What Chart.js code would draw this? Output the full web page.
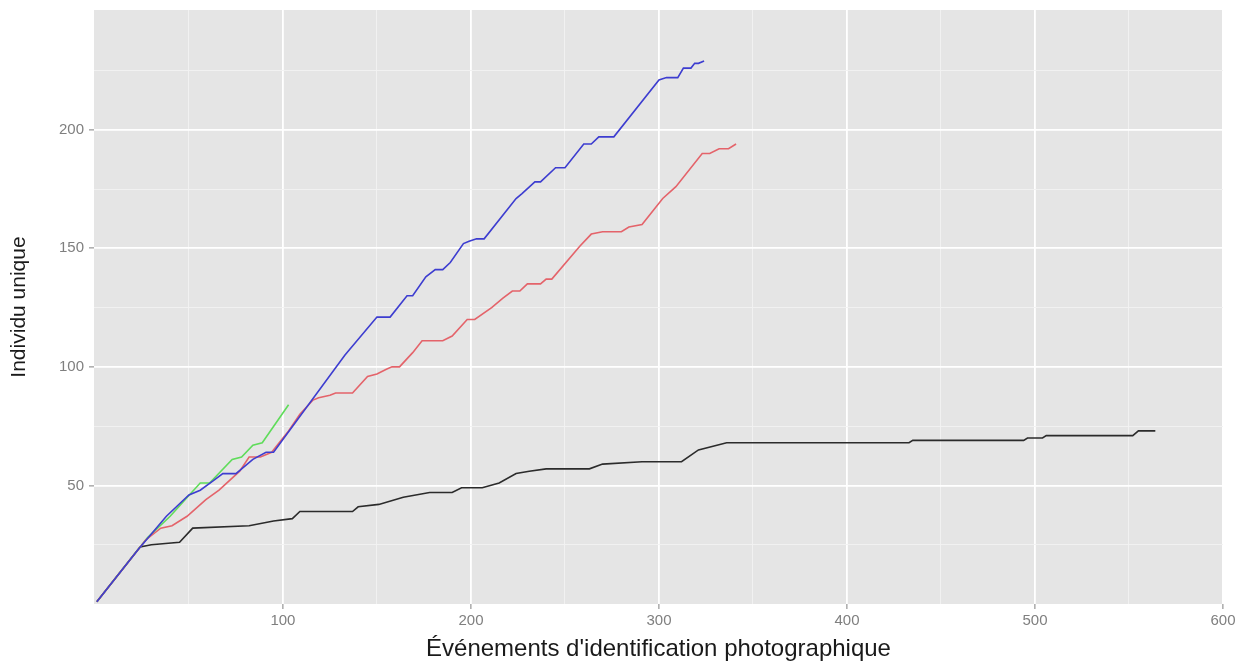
<!DOCTYPE html>
<html>
<head>
<meta charset="utf-8">
<script src="https://cdn.jsdelivr.net/npm/chart.js@4"></script>
<style>
  html, body { margin: 0; padding: 0; background: #ffffff; }
  #wrap { width: 1249px; height: 665px; position: relative; }
</style>
</head>
<body>
<div id="wrap"><canvas id="c" width="1249" height="665"></canvas></div>
<script>
// ---- data ----
const xTicks = [50, 100, 150, 200, 250, 300, 350, 400, 450, 500, 550, 600];
const yTicks = [25, 50, 75, 100, 125, 150, 175, 200, 225];

const blackX = [1, 24, 30, 45, 52, 82, 95, 105, 109, 137, 140, 151, 164, 178, 190, 195, 206, 215, 224, 231, 240, 263, 270, 291, 312, 321, 336, 433, 435, 494, 496, 504, 506, 552, 555, 564];
const blackY = [1, 24, 25, 26, 32, 33, 35, 36, 39, 39, 41, 42, 45, 47, 47, 49, 49, 51, 55, 56, 57, 57, 59, 60, 60, 65, 68, 68, 69, 69, 70, 70, 71, 71, 73, 73];

const greenX = [1, 28, 40, 56, 61, 73, 78, 84, 89, 103];
const greenY = [1, 28, 37, 51, 51, 61, 62, 67, 68, 84];

const redX = [1, 27, 35, 41, 49, 59, 66, 77, 82, 88, 94, 98, 103, 109, 116, 119, 125, 128, 137, 145, 150, 155, 158, 162, 169, 174, 185, 190, 198, 202, 211, 217, 222, 226, 230, 237, 240, 243, 258, 264, 270, 280, 284, 291, 302, 309, 323, 327, 332, 337, 341];
const redY = [1, 27, 32, 33, 37, 44, 48, 56, 62, 62, 64, 68, 73, 80, 86, 87, 88, 89, 89, 96, 97, 99, 100, 100, 106, 111, 111, 113, 120, 120, 125, 129, 132, 132, 135, 135, 137, 137, 151, 156, 157, 157, 159, 160, 171, 176, 190, 190, 192, 192, 194];

const blueX = [1, 23, 38, 50, 56, 63, 68, 75, 84, 91, 95, 133, 134, 150, 157, 166, 169, 176, 181, 185, 189, 196, 199, 203, 207, 224, 227, 234, 237, 245, 250, 260, 264, 268, 276, 300, 304, 310, 313, 317, 319, 321, 324];
const blueY = [1, 23, 37, 46, 48, 52, 55, 55, 61, 64, 64, 105, 106, 121, 121, 130, 130, 138, 141, 141, 144, 152, 153, 154, 154, 171, 173, 178, 178, 184, 184, 194, 194, 197, 197, 221, 222, 222, 226, 226, 228, 228, 229];

const xTitle = "Événements d'identification photographique";
const yTitle = "Individu unique";

function pts(xs, ys) { return xs.map((x, i) => ({ x: x, y: ys[i] })); }

const bgPlugin = {
  id: 'panelBg',
  beforeDraw(chart) {
    const a = chart.chartArea, ctx = chart.ctx;
    ctx.save();
    ctx.fillStyle = '#e5e5e5';
    ctx.fillRect(a.left, a.top, a.right - a.left, a.bottom - a.top);
    ctx.restore();
  }
};

const lineDs = (data, color, order) => ({
  data: data, showLine: true, borderColor: color, backgroundColor: color, order: order,
  borderWidth: 1.6, pointRadius: 0, pointHoverRadius: 0, tension: 0, fill: false
});

const FONT = "'Liberation Sans', Arial, sans-serif";

new Chart(document.getElementById('c'), {
  type: 'scatter',
  data: {
    datasets: [
      lineDs(pts(blackX, blackY), '#2b2b2b', 4),
      lineDs(pts(greenX, greenY), '#5fdc5a', 3),
      lineDs(pts(redX, redY), '#e4636a', 2),
      lineDs(pts(blueX, blueY), '#3d3dd0', 1)
    ]
  },
  plugins: [bgPlugin],
  options: {
    responsive: false,
    animation: false,
    events: [],
    layout: { padding: { top: 10, right: 26, left: 0, bottom: 0 } },
    plugins: { legend: { display: false }, tooltip: { enabled: false } },
    scales: {
      x: {
        type: 'linear', min: -0.5, max: 600,
        afterBuildTicks: s => { s.ticks = xTicks.map(v => ({ value: v })); },
        afterFit: s => { s.height = 61; s.paddingLeft = 0; s.paddingRight = 0; },
        border: { display: false },
        grid: {
          color: c => (c.tick && c.tick.value % 100 === 0) ? '#ffffff' : '#f2f2f2',
          lineWidth: c => (c.tick && c.tick.value % 100 === 0) ? 1.8 : 0.9,
          tickColor: c => (c.tick && c.tick.value % 100 === 0) ? '#7f7f7f' : 'rgba(0,0,0,0)',
          tickLength: 5, tickWidth: 1
        },
        ticks: {
          autoSkip: false, maxRotation: 0, padding: 3,
          color: '#7f7f7f', font: { family: FONT, size: 15 },
          callback: v => (v % 100 === 0 ? String(v) : '')
        },
        title: {
          display: true, text: xTitle, color: '#1a1a1a',
          font: { family: FONT, size: 24 }, padding: { top: 0, bottom: 1 }
        }
      },
      y: {
        type: 'linear', min: 0, max: 250.5,
        afterBuildTicks: s => { s.ticks = yTicks.map(v => ({ value: v })); },
        afterFit: s => { s.width = 94; s.paddingTop = 0; s.paddingBottom = 0; },
        border: { display: false },
        grid: {
          color: c => (c.tick && c.tick.value % 50 === 0) ? '#ffffff' : '#f2f2f2',
          lineWidth: c => (c.tick && c.tick.value % 50 === 0) ? 1.8 : 0.9,
          tickColor: c => (c.tick && c.tick.value % 50 === 0) ? '#7f7f7f' : 'rgba(0,0,0,0)',
          tickLength: 5, tickWidth: 1
        },
        ticks: {
          autoSkip: false, padding: 5,
          color: '#7f7f7f', font: { family: FONT, size: 15 },
          callback: v => (v % 50 === 0 ? String(v) : '')
        },
        title: {
          display: true, text: yTitle, color: '#1a1a1a',
          font: { family: FONT, size: 21 }, padding: { top: 7, bottom: 0 }
        }
      }
    }
  }
});
</script>
</body>
</html>
